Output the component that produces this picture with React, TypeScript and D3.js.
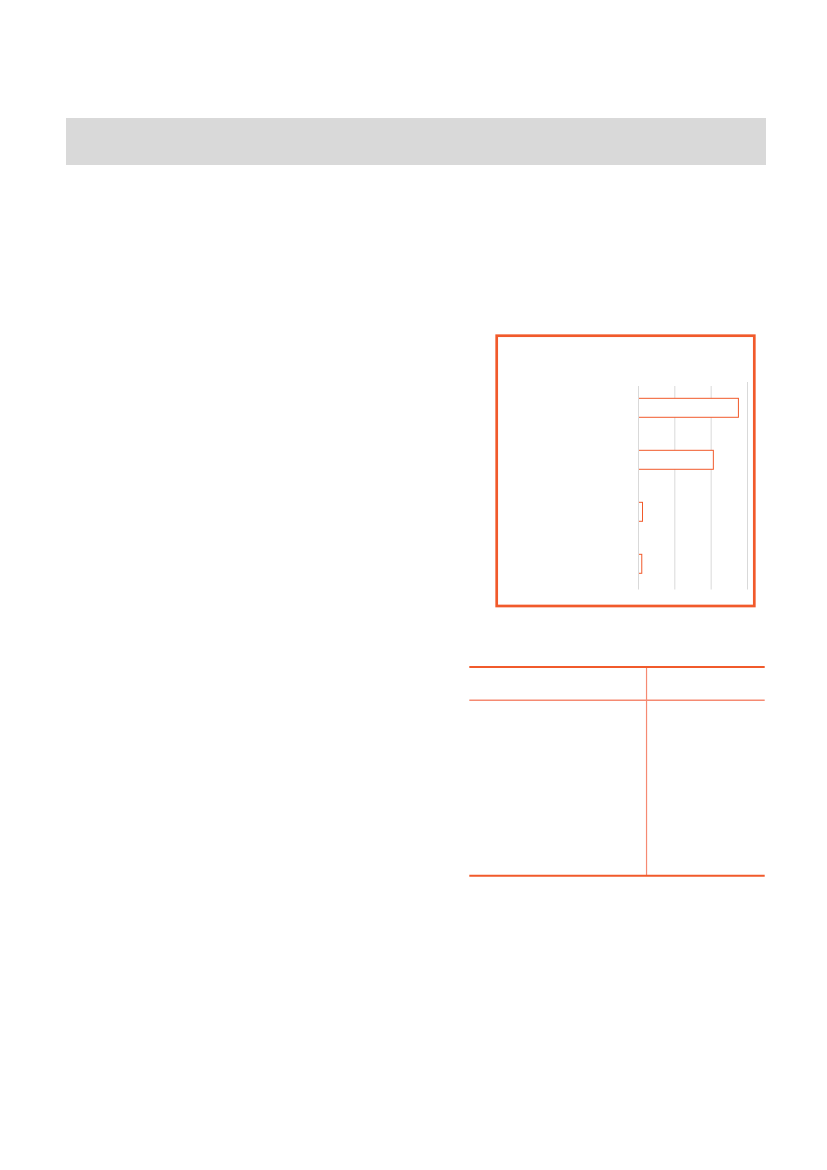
import { useEffect, useRef } from "react";
import * as d3 from "d3";

// Bar values (x axis ticks 0, 10, 20, 30)
const CATEGORIES = ["A", "B", "C", "D"];
const VALUES = [27.5, 20.6, 1.1, 0.9];
const X_TICKS = [0, 10, 20, 30];

// Table layout: column boundaries and row count (cells are blank)
const TABLE_COLUMNS = ["col1", "col2"];
const TABLE_ROWS = ["r1", "r2", "r3", "r4"];

const ORANGE = "#F15A2B";
const ORANGE_LIGHT = "#F58A72";
const GRID = "#D9D9D9";

const W = 827;
const H = 1170;

export default function App() {
  const svgRef = useRef<SVGSVGElement>(null);

  useEffect(() => {
    if (!svgRef.current) return;
    const svg = d3.select(svgRef.current);
    svg.selectAll("*").remove();

    // ============ HEADER BAND ============
    svg.append("rect")
      .attr("x", 66)
      .attr("y", 118)
      .attr("width", 700)
      .attr("height", 47)
      .attr("fill", "#D9D9D9");

    // ============ CHART BOX ============
    svg.append("rect")
      .attr("x", 496.7)
      .attr("y", 335.7)
      .attr("width", 257.6)
      .attr("height", 270.3)
      .attr("fill", "none")
      .attr("stroke", ORANGE)
      .attr("stroke-width", 2.7);

    const xScale = d3.scaleLinear()
      .domain([0, 30])
      .range([638.5, 747.5]);

    const yScale = d3.scaleBand()
      .domain(CATEGORIES)
      .range([381.8, 589.8])
      .paddingInner(0.635)
      .paddingOuter(0.3175);

    // Gridlines (behind bars)
    svg.append("g")
      .selectAll("line")
      .data(X_TICKS.filter((d) => d !== 0))
      .join("line")
      .attr("x1", (d) => xScale(d))
      .attr("x2", (d) => xScale(d))
      .attr("y1", (d) => (d === 30 ? 382 : 386))
      .attr("y2", 589.5)
      .attr("stroke", GRID)
      .attr("stroke-width", 1);

    // Bars (outlined)
    svg.append("g")
      .selectAll("rect")
      .data(VALUES)
      .join("rect")
      .attr("x", xScale(0))
      .attr("y", (_, i) => (yScale(CATEGORIES[i]) ?? 0))
      .attr("width", (d) => xScale(d) - xScale(0))
      .attr("height", yScale.bandwidth())
      .attr("fill", "#fff")
      .attr("stroke", ORANGE)
      .attr("stroke-width", 1);

    // Zero line drawn over the bars' left edges
    svg.append("line")
      .attr("x1", xScale(0))
      .attr("x2", xScale(0))
      .attr("y1", 386)
      .attr("y2", 589.5)
      .attr("stroke", GRID)
      .attr("stroke-width", 1);

    // ============ TABLE ============
    const tableX = d3.scaleLinear().domain([0, 1]).range([469.3, 764.7]);
    const colSplit = tableX(0.6);
    const top = 667;
    const headerBottom = 700.3;
    const bottom = 875.7;
    const rowY = d3.scaleBand()
      .domain(TABLE_ROWS)
      .range([headerBottom, bottom]);

    const t = svg.append("g");

    // invisible row separators (white)
    t.selectAll("line.row")
      .data(TABLE_ROWS.slice(1))
      .join("line")
      .attr("class", "row")
      .attr("x1", tableX(0))
      .attr("x2", tableX(1))
      .attr("y1", (d) => rowY(d) ?? 0)
      .attr("y2", (d) => rowY(d) ?? 0)
      .attr("stroke", "#fff")
      .attr("stroke-width", 1);

    // column divider
    t.selectAll("line.col")
      .data(TABLE_COLUMNS.slice(1))
      .join("line")
      .attr("class", "col")
      .attr("x1", colSplit)
      .attr("x2", colSplit)
      .attr("y1", top)
      .attr("y2", bottom)
      .attr("stroke", ORANGE_LIGHT)
      .attr("stroke-width", 1.2);

    t.append("line")
      .attr("x1", tableX(0)).attr("x2", tableX(1))
      .attr("y1", top).attr("y2", top)
      .attr("stroke", ORANGE).attr("stroke-width", 2);

    t.append("line")
      .attr("x1", tableX(0)).attr("x2", tableX(1))
      .attr("y1", headerBottom).attr("y2", headerBottom)
      .attr("stroke", ORANGE_LIGHT).attr("stroke-width", 1.5);

    t.append("line")
      .attr("x1", tableX(0)).attr("x2", tableX(1))
      .attr("y1", bottom).attr("y2", bottom)
      .attr("stroke", ORANGE).attr("stroke-width", 2);
  }, []);

  return (
    <svg
      ref={svgRef}
      width={W}
      height={H}
      style={{ position: "absolute", left: 0, top: 0, background: "#fff" }}
    />
  );
}
